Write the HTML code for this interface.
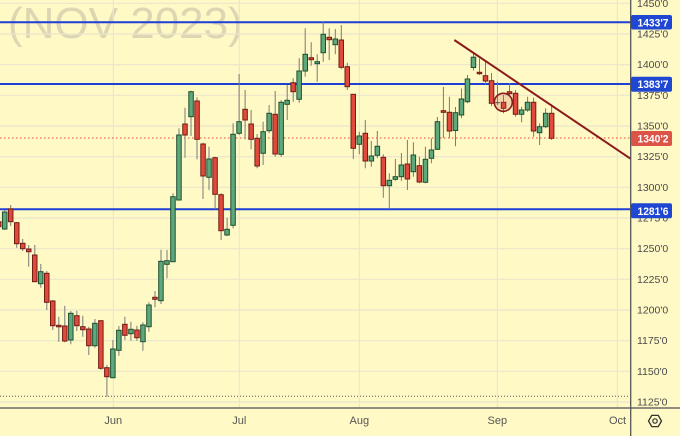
<!DOCTYPE html>
<html><head><meta charset="utf-8"><style>
html,body{margin:0;padding:0;background:#fff9c5;}
svg{display:block;}
text{font-family:"Liberation Sans",sans-serif;}
</style></head><body>
<svg width="680" height="436" viewBox="0 0 680 436" xmlns="http://www.w3.org/2000/svg">
<rect x="0" y="0" width="680" height="436" fill="#fff9c5"/>
<text x="8" y="38" font-size="44" fill="#dcd6b3">(NOV 2023)</text>
<g stroke="#ebe6cc" stroke-width="1.2">
<path d="M0 3.3H631M0 34H631M0 64.6H631M0 95.3H631M0 126H631M0 156.6H631M0 187.3H631M0 218H631M0 248.7H631M0 279.3H631M0 310H631M0 340.7H631M0 371.3H631M0 402H631"/>
<path d="M113.3 0V408M239.3 0V408M359.3 0V408M497.3 0V408M617.3 0V408"/>
</g>
<line x1="0" y1="396.3" x2="630" y2="396.3" stroke="#555" stroke-width="1" stroke-dasharray="1 2"/>
<line x1="0" y1="138" x2="630" y2="138" stroke="#e04a3c" stroke-width="1" stroke-dasharray="1.5 2.5"/>
<g stroke="#1d3fd6" stroke-width="2">
<line x1="0" y1="22.3" x2="631" y2="22.3"/>
<line x1="0" y1="84" x2="631" y2="84"/>
<line x1="0" y1="209.3" x2="631" y2="209.3"/>
</g>
<path stroke="#7a7a7a" stroke-width="1" fill="none" d="M-1.3 220V228 M4.7 210V230 M10.7 205V226 M16.7 222V247.7 M22.7 239V251 M28.7 245V266.7 M34.8 245V282 M40.8 264V287.7 M46.8 271V310 M52.8 300V330 M58.8 316.7V341.7 M64.8 305.7V342.3 M70.8 311V344.3 M76.8 310.7V331 M82.8 315.7V336.7 M88.8 326.7V355 M94.9 319V347.7 M100.9 320V369.7 M106.9 365V396.7 M112.9 340V378.3 M118.9 326V355.7 M124.9 316.7V340 M130.9 321.7V340.7 M136.9 325.7V340.7 M142.9 322.3V350.7 M148.9 302.3V331.7 M155 291V307.3 M161 249.7V304 M167 250V278.3 M173 193.3V262 M179 128.3V200 M185 107.7V157.7 M191 90.7V136 M197 97.3V159.3 M203 142.7V199 M209 146.7V190 M215.1 156.7V209.3 M221.1 193.3V240 M227.1 217.7V236 M233.1 123.3V228.3 M239.1 74V135 M245.1 90V139.3 M251.1 110V149.3 M257.1 134V168.3 M263.1 121.7V165 M269.1 105V133.3 M275.2 91V156.7 M281.2 100V156.7 M287.2 85V120 M293.2 78.3V101.7 M299.2 58.3V102.7 M305.2 28.3V76.7 M311.2 42.3V65.7 M317.2 54.3V81.7 M323.2 21.7V61.7 M329.2 28.3V60 M335.3 29V54.3 M341.3 25V69.3 M347.3 62.7V90 M353.3 94.3V159 M359.3 131.7V154.3 M365.3 120V168.3 M371.3 141V166.7 M377.3 131V158.3 M383.3 154.3V197.7 M389.3 173.3V209.3 M395.4 159V180.7 M401.4 153V181 M407.4 140V190 M413.4 142.3V176.7 M419.4 156.7V183.3 M425.4 146.7V183.3 M431.4 138.3V163.3 M437.4 117V150 M443.4 87V138 M449.4 96.7V138.3 M455.5 107V146.3 M461.5 88.5V118.3 M467.5 75V103.3 M473.5 53.3V70.5 M479.5 58.5V75 M485.5 61.7V84.5 M491.5 73V106 M497.5 81.7V105 M503.5 95V113.3 M509.5 83.3V95 M515.6 90V116.7 M521.6 106.7V122.3 M527.6 96.7V111.7 M533.6 97.7V136.7 M539.6 123.3V145 M545.6 108.3V128.3 M551.6 104.3V140"/>
<g fill="#5ea87c" stroke="#1d4f30" stroke-width="1">
<rect x="2.45" y="212" width="4.5" height="17"/>
<rect x="38.5" y="271.7" width="4.5" height="12"/>
<rect x="68.55" y="313.3" width="4.5" height="26.7"/>
<rect x="92.6" y="323.3" width="4.5" height="22.4"/>
<rect x="110.6" y="349" width="4.5" height="28.7"/>
<rect x="116.6" y="330.3" width="4.5" height="20"/>
<rect x="128.7" y="329.3" width="4.5" height="4.4"/>
<rect x="140.7" y="325" width="4.5" height="16.7"/>
<rect x="146.7" y="305" width="4.5" height="21.7"/>
<rect x="158.7" y="261.3" width="4.5" height="39.4"/>
<rect x="164.7" y="260.7" width="4.5" height="3.6"/>
<rect x="170.7" y="196.7" width="4.5" height="65"/>
<rect x="176.7" y="135" width="4.5" height="65"/>
<rect x="188.8" y="91.7" width="4.5" height="25"/>
<rect x="206.8" y="159" width="4.5" height="18.3"/>
<rect x="224.8" y="229.3" width="4.5" height="5.7"/>
<rect x="230.8" y="134.3" width="4.5" height="91"/>
<rect x="236.8" y="121.7" width="4.5" height="11.6"/>
<rect x="260.9" y="131.7" width="4.5" height="21.6"/>
<rect x="266.9" y="113.3" width="4.5" height="17.4"/>
<rect x="278.9" y="102.3" width="4.5" height="52"/>
<rect x="284.9" y="100.3" width="4.5" height="4"/>
<rect x="296.9" y="71" width="4.5" height="28.3"/>
<rect x="303" y="54.3" width="4.5" height="16.7"/>
<rect x="315" y="61.7" width="4.5" height="2"/>
<rect x="321" y="34.3" width="4.5" height="18.4"/>
<rect x="333" y="39" width="4.5" height="5.7"/>
<rect x="357" y="136" width="4.5" height="8.3"/>
<rect x="369.1" y="156" width="4.5" height="5"/>
<rect x="375.1" y="146.3" width="4.5" height="9"/>
<rect x="387.1" y="180.3" width="4.5" height="5.4"/>
<rect x="393.1" y="176.7" width="4.5" height="2.6"/>
<rect x="399.1" y="165" width="4.5" height="11.7"/>
<rect x="411.1" y="155" width="4.5" height="16.7"/>
<rect x="423.2" y="159.3" width="4.5" height="23"/>
<rect x="429.2" y="150" width="4.5" height="8.3"/>
<rect x="435.2" y="121.7" width="4.5" height="27.6"/>
<rect x="453.2" y="112.7" width="4.5" height="17.8"/>
<rect x="459.2" y="99" width="4.5" height="16"/>
<rect x="465.2" y="79" width="4.5" height="22.7"/>
<rect x="471.2" y="57.2" width="4.5" height="10.3"/>
<rect x="519.3" y="110" width="4.5" height="4.3"/>
<rect x="525.3" y="102.3" width="4.5" height="7.7"/>
<rect x="537.3" y="126.7" width="4.5" height="6"/>
<rect x="543.4" y="113.3" width="4.5" height="13.4"/>
</g>
<g fill="#e04a3c" stroke="#731c14" stroke-width="1">
<rect x="-3.55" y="221.7" width="4.5" height="5"/>
<rect x="8.45" y="209" width="4.5" height="12.7"/>
<rect x="14.5" y="222.7" width="4.5" height="21"/>
<rect x="20.5" y="243.3" width="4.5" height="5.4"/>
<rect x="26.5" y="249" width="4.5" height="2.7"/>
<rect x="32.5" y="255" width="4.5" height="26.7"/>
<rect x="44.5" y="273.3" width="4.5" height="29"/>
<rect x="50.5" y="301" width="4.5" height="24.7"/>
<rect x="56.55" y="325.3" width="4.5" height="1.5"/>
<rect x="62.55" y="326" width="4.5" height="15"/>
<rect x="74.6" y="315.7" width="4.5" height="10"/>
<rect x="80.6" y="326.7" width="4.5" height="3"/>
<rect x="86.6" y="329" width="4.5" height="16.7"/>
<rect x="98.6" y="320.7" width="4.5" height="47.6"/>
<rect x="104.6" y="367.7" width="4.5" height="9"/>
<rect x="122.6" y="324.3" width="4.5" height="11"/>
<rect x="134.7" y="330" width="4.5" height="7.7"/>
<rect x="152.7" y="297.3" width="4.5" height="2"/>
<rect x="182.75" y="124" width="4.5" height="11"/>
<rect x="194.8" y="101" width="4.5" height="38.3"/>
<rect x="200.8" y="144" width="4.5" height="32"/>
<rect x="212.8" y="157.7" width="4.5" height="36.6"/>
<rect x="218.8" y="194.7" width="4.5" height="36"/>
<rect x="242.85" y="109.3" width="4.5" height="10.7"/>
<rect x="248.9" y="124" width="4.5" height="15.3"/>
<rect x="254.9" y="138.3" width="4.5" height="27.7"/>
<rect x="272.9" y="114.3" width="4.5" height="39.7"/>
<rect x="290.9" y="82.7" width="4.5" height="9"/>
<rect x="309" y="57.7" width="4.5" height="2"/>
<rect x="327" y="37.3" width="4.5" height="2.4"/>
<rect x="339" y="40" width="4.5" height="27.3"/>
<rect x="345" y="66.7" width="4.5" height="20"/>
<rect x="351" y="94.3" width="4.5" height="54"/>
<rect x="363.05" y="133.3" width="4.5" height="27.7"/>
<rect x="381.1" y="157.3" width="4.5" height="28.4"/>
<rect x="405.1" y="164" width="4.5" height="15"/>
<rect x="417.1" y="165.7" width="4.5" height="16.3"/>
<rect x="441.2" y="110.7" width="4.5" height="1.6"/>
<rect x="447.2" y="112.3" width="4.5" height="18.7"/>
<rect x="477.2" y="72.3" width="4.5" height="1.4"/>
<rect x="483.25" y="75.7" width="4.5" height="5.3"/>
<rect x="489.3" y="80.7" width="4.5" height="22.6"/>
<rect x="501.3" y="102.3" width="4.5" height="6"/>
<rect x="507.3" y="91.7" width="4.5" height="2"/>
<rect x="513.3" y="93.3" width="4.5" height="21"/>
<rect x="531.3" y="102.3" width="4.5" height="28.7"/>
<rect x="549.4" y="113.3" width="4.5" height="25"/>
</g>
<rect x="495.3" y="102" width="4.5" height="1.2" fill="#555"/>
<circle cx="503.3" cy="102.3" r="9" fill="rgba(200,90,80,0.22)" stroke="#8b1c1c" stroke-width="1.6"/>
<line x1="454.3" y1="40" x2="630.7" y2="158.8" stroke="#8b1a1a" stroke-width="2"/>
<line x1="0" y1="408" x2="680" y2="408" stroke="#6a6a6a" stroke-width="1.5"/>
<line x1="630.7" y1="0" x2="630.7" y2="436" stroke="#555" stroke-width="1.3"/>
<g font-size="10.5" fill="#4a4a4a">
<text x="637" y="6.8">1450'0</text>
<text x="637" y="37.5">1425'0</text>
<text x="637" y="68.1">1400'0</text>
<text x="637" y="98.8">1375'0</text>
<text x="637" y="129.5">1350'0</text>
<text x="637" y="160.1">1325'0</text>
<text x="637" y="190.8">1300'0</text>
<text x="637" y="221.5">1275'0</text>
<text x="637" y="252.2">1250'0</text>
<text x="637" y="282.8">1225'0</text>
<text x="637" y="313.5">1200'0</text>
<text x="637" y="344.2">1175'0</text>
<text x="637" y="374.8">1150'0</text>
<text x="637" y="405.5">1125'0</text>
</g>
<rect x="631" y="15" width="41" height="14.5" rx="2" fill="#1f47d2"/>
<rect x="631" y="76.7" width="41" height="15" rx="2" fill="#1f47d2"/>
<rect x="631" y="131" width="41" height="15" rx="2" fill="#dc5447"/>
<rect x="631" y="203.3" width="41" height="15" rx="2" fill="#1f47d2"/>
<g font-size="11" font-weight="bold" fill="#fff">
<text x="637.5" y="26.3" textLength="31" lengthAdjust="spacingAndGlyphs">1433'7</text>
<text x="637.5" y="88.2" textLength="31" lengthAdjust="spacingAndGlyphs">1383'7</text>
<text x="637.5" y="142.5" textLength="31" lengthAdjust="spacingAndGlyphs">1340'2</text>
<text x="637.5" y="214.8" textLength="31" lengthAdjust="spacingAndGlyphs">1281'6</text>
</g>
<g font-size="11" fill="#555" text-anchor="middle">
<text x="113.3" y="424">Jun</text>
<text x="239.3" y="424">Jul</text>
<text x="359.3" y="424">Aug</text>
<text x="497.3" y="424">Sep</text>
<text x="617.5" y="424">Oct</text>
</g>
<polygon points="661.5,421 658.25,426.6 651.75,426.6 648.5,421 651.75,415.4 658.25,415.4" fill="none" stroke="#333" stroke-width="1.3"/>
<circle cx="655" cy="421" r="2.2" fill="none" stroke="#333" stroke-width="1.2"/>
</svg>
</body></html>
